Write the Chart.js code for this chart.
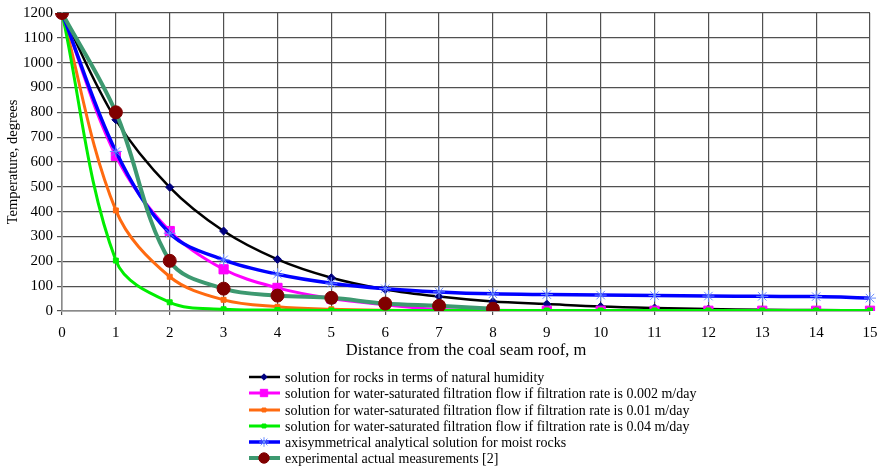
<!DOCTYPE html>
<html>
<head>
<meta charset="utf-8">
<script src="https://cdn.jsdelivr.net/npm/chart.js@4/dist/chart.umd.min.js"></script>
<style>
html,body{margin:0;padding:0;background:#fff;}
#wrap{width:878px;height:466px;position:relative;}
</style>
</head>
<body>
<div id="wrap"><canvas id="c" width="878" height="466"></canvas></div>
<script>
const distances = [0,1,2,3,4,5,6,7,8,9,10,11,12,13,14,15];
const yTicks = [0,100,200,300,400,500,600,700,800,900,1000,1100,1200];
const naturalHumidity = [1200,770,498,322,208,134,87,58,38,28,18,12,8,5,4,3];
const filtration0002 = [1200,625,322,168,93,50,25,6,3,1,1,1,1,1,1,1];
const filtration001 = [1200,405,138,45,17,7,3,2,1,1,1,1,1,1,1,1];
const filtration004 = [1200,203,35,7,4,2,2,2,2,2,2,2,2,2,2,2];
const axisymmetrical = [1200,642,313,206,148,112,90,77,69,66,64,62,60,59,58,52];
const experimental = [1200,800,202,90,62,53,30,21,9,null,null,null,null,null,null,null];
const seriesNames = [
  'solution for rocks in terms of natural humidity',
  'solution for water-saturated filtration flow if filtration rate is 0.002 m/day',
  'solution for water-saturated filtration flow if filtration rate is 0.01 m/day',
  'solution for water-saturated filtration flow if filtration rate is 0.04 m/day',
  'axisymmetrical analytical solution for moist rocks',
  'experimental actual measurements [2]'
];

const FONT = '"Liberation Serif", "Times New Roman", serif';

const datasets = [
  {label: seriesNames[0], data: naturalHumidity, borderColor:'#000000', borderWidth:2.5,
   pointStyle:'rectRot', pointRadius:4, pointBackgroundColor:'#000080', pointBorderColor:'#000080', pointBorderWidth:1, order:6},
  {label: seriesNames[1], data: filtration0002, borderColor:'#ff00ff', borderWidth:3,
   pointStyle:'rect', pointRadius:6.5, pointBackgroundColor:'#ff00ff', pointBorderColor:'#ff00ff', pointBorderWidth:1, order:5},
  {label: seriesNames[2], data: filtration001, borderColor:'#ff6a10', borderWidth:3,
   pointStyle:'rect', pointRadius:3.5, pointBackgroundColor:'#ff6a10', pointBorderColor:'#ff6a10', pointBorderWidth:1, order:4},
  {label: seriesNames[3], data: filtration004, borderColor:'#00ee00', borderWidth:3,
   pointStyle:'rect', pointRadius:3.5, pointBackgroundColor:'#00ee00', pointBorderColor:'#00ee00', pointBorderWidth:1, order:3},
  {label: seriesNames[4], data: axisymmetrical, borderColor:'#0000ff', borderWidth:3.5,
   pointStyle:'star', pointRadius:6, pointBackgroundColor:'#6b8cff', pointBorderColor:'#6b8cff', pointBorderWidth:1, order:2},
  {label: seriesNames[5], data: experimental, borderColor:'#3d9970', borderWidth:4,
   pointStyle:'circle', pointRadius:6.5, pointBackgroundColor:'#800000', pointBorderColor:'#800000', pointBorderWidth:1, order:1}
];
datasets.forEach(d => { d.fill = false; d.tension = 0.35; d.spanGaps = false; d.pointHoverRadius = d.pointRadius; });

function drawMarker(ctx, ds, x, y, scale) {
  const opts = {pointStyle: ds.pointStyle, radius: ds.pointRadius * scale, borderWidth: ds.pointBorderWidth, rotation: 0};
  ctx.save();
  ctx.fillStyle = ds.pointBackgroundColor;
  ctx.strokeStyle = ds.pointBorderColor;
  ctx.lineWidth = ds.pointBorderWidth;
  if (Chart.helpers && Chart.helpers.drawPoint) {
    Chart.helpers.drawPoint(ctx, opts, x, y);
  } else {
    ctx.beginPath(); ctx.arc(x, y, opts.radius, 0, Math.PI*2); ctx.fill();
  }
  ctx.restore();
}

const legendPlugin = {
  id: 'customLegend',
  afterDraw(chart) {
    const ctx = chart.ctx;
    const x0 = 249, x1 = 280, xm = 264, xt = 285;
    const rows = [377, 393, 410, 426, 442, 458];
    ctx.save();
    ctx.font = '14px ' + FONT;
    ctx.textBaseline = 'middle';
    ctx.textAlign = 'left';
    datasets.forEach((ds, i) => {
      const y = rows[i];
      ctx.strokeStyle = ds.borderColor;
      ctx.lineWidth = ds.borderWidth;
      ctx.beginPath(); ctx.moveTo(x0, y); ctx.lineTo(x1, y); ctx.stroke();
      drawMarker(ctx, ds, xm, y, 0.8);
      ctx.fillStyle = '#000';
      ctx.fillText(ds.label, xt, y + 1);
    });
    ctx.restore();
  }
};

new Chart(document.getElementById('c'), {
  type: 'line',
  data: { labels: distances, datasets: datasets },
  options: {
    responsive: false,
    animation: false,
    devicePixelRatio: 1,
    layout: { padding: { left: 4, right: 0, top: 13, bottom: 105 } },
    plugins: {
      legend: { display: false },
      tooltip: { enabled: false }
    },
    scales: {
      x: {
        type: 'category',
        offset: false,
        grid: { color: '#505050', lineWidth: 1.2, tickLength: 4, drawTicks: true },
        border: { color: '#8a8a8a', width: 1.5 },
        ticks: { color: '#000', font: { family: FONT, size: 15 }, padding: 9, maxRotation: 0, autoSkip: false },
        title: { display: true, text: 'Distance from the coal seam roof, m', color: '#000', font: { family: FONT, size: 16.5 }, padding: { top: 0, bottom: 0 } },
        afterFit(scale) { scale.height = 50; scale.paddingRight = 8; scale.paddingLeft = 0; }
      },
      y: {
        type: 'linear',
        min: 0, max: 1200,
        afterBuildTicks(scale) { scale.ticks = yTicks.map(v => ({ value: v })); },
        grid: { color: '#505050', lineWidth: 1.2, tickLength: 5 },
        border: { color: '#8a8a8a', width: 1.5 },
        ticks: { color: '#000', font: { family: FONT, size: 15 }, padding: 4, callback: v => String(v) },
        title: { display: true, text: 'Temperature, degrees', color: '#000', font: { family: FONT, size: 14.5 }, padding: { top: 0, bottom: 3 } },
        afterFit(scale) { scale.width = 58; }
      }
    }
  },
  plugins: [legendPlugin]
});
</script>
</body>
</html>
